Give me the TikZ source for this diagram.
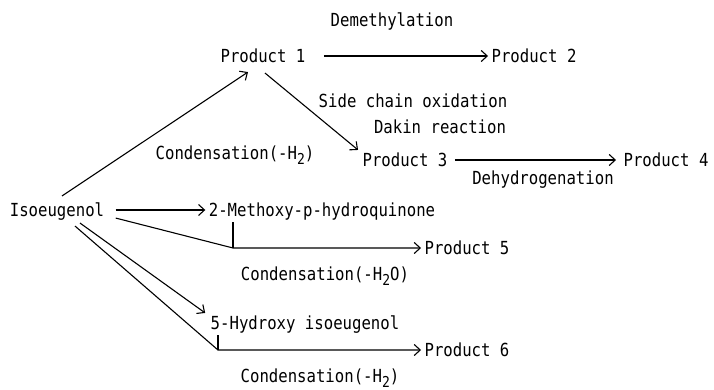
\documentclass[tikz,border=0pt]{standalone}
\usepackage{fontspec}
\setmainfont{DejaVu Sans Mono}[FakeStretch=0.87]
\usetikzlibrary{arrows.meta}
\newcommand{\lowr}[1]{\raisebox{-0.28em}{\fontsize{15}{15}\selectfont #1}}
\tikzset{
	txt/.style={inner sep=3pt, text height=13pt, text depth=0pt, font=\fontsize{18}{20}\selectfont},
	arr/.style={-{Straight Barb[length=6pt,width=11pt]}},
}
\begin{document}
\begin{tikzpicture}[x=1pt, y=-1pt, line width=1.1pt]
			\useasboundingbox (0,0) rectangle (714,390);

			\node[txt] (iso) at(57, 210){Isoeugenol};

			\node[txt] (p1) at(263, 56){Product 1};
				\node[txt] (demeth) at(392, 20){Demethylation};
			\node[txt] (p2) at(534, 56){Product 2};
				\node[txt] (cond1) at(235, 153){Condensation(-H\lowr{2})};
				\node[txt] (side) at(413, 101){Side chain oxidation};
				\node[txt] (dakin) at(440, 127){Dakin reaction};
			\node[txt] (p3) at(405, 160){Product 3};
			\node[txt] (p4) at(666, 160){Product 4};
				\node[txt] (dehyd) at(543, 178){Dehydrogenation};

			\node[txt] (mhq) at(322, 210){2-Methoxy-p-hydroquinone};
			\node[txt] (p5) at(467, 248){Product 5};
				\node[txt] (cond2) at(325, 274){Condensation(-H\lowr{2}O)};
			\node[txt] (hiso) at(305, 323){5-Hydroxy isoeugenol};
			\node[txt] (p6) at(467, 350){Product 6};
				\node[txt] (cond3) at(320, 376){Condensation(-H\lowr{2})};

			\coordinate (c5) at(233, 248);
			\coordinate (c6) at(218, 350);

			\draw[arr] ([xshift=5pt,yshift=4pt]iso.north) to ([xshift=-15pt,yshift=-6pt]p1.south);
			\draw[arr, shorten <=15pt] (p1) to (p2);
			\draw[arr] ([xshift=2pt,yshift=-7pt]p1.south) to ([xshift=-1pt]p3.north west);
			\draw[arr, shorten <=4pt, shorten >=4pt] (p3) to (p4);

			\draw[arr, shorten <=8pt] (iso) to (mhq);
			\draw[arr] ([xshift=8pt,yshift=2pt]iso.south east) to (c5) to (p5);
				\draw(c5) to ++(0,-26);
			\draw[arr] ([xshift=23pt,yshift=-3pt]iso.south) to ([xshift=-2pt]hiso.north west);
			\draw[arr] ([xshift=18pt,yshift=-6pt]iso.south) to (c6) to (p6);
				\draw(c6) to ++(0,-15);
		\end{tikzpicture}
\end{document}
